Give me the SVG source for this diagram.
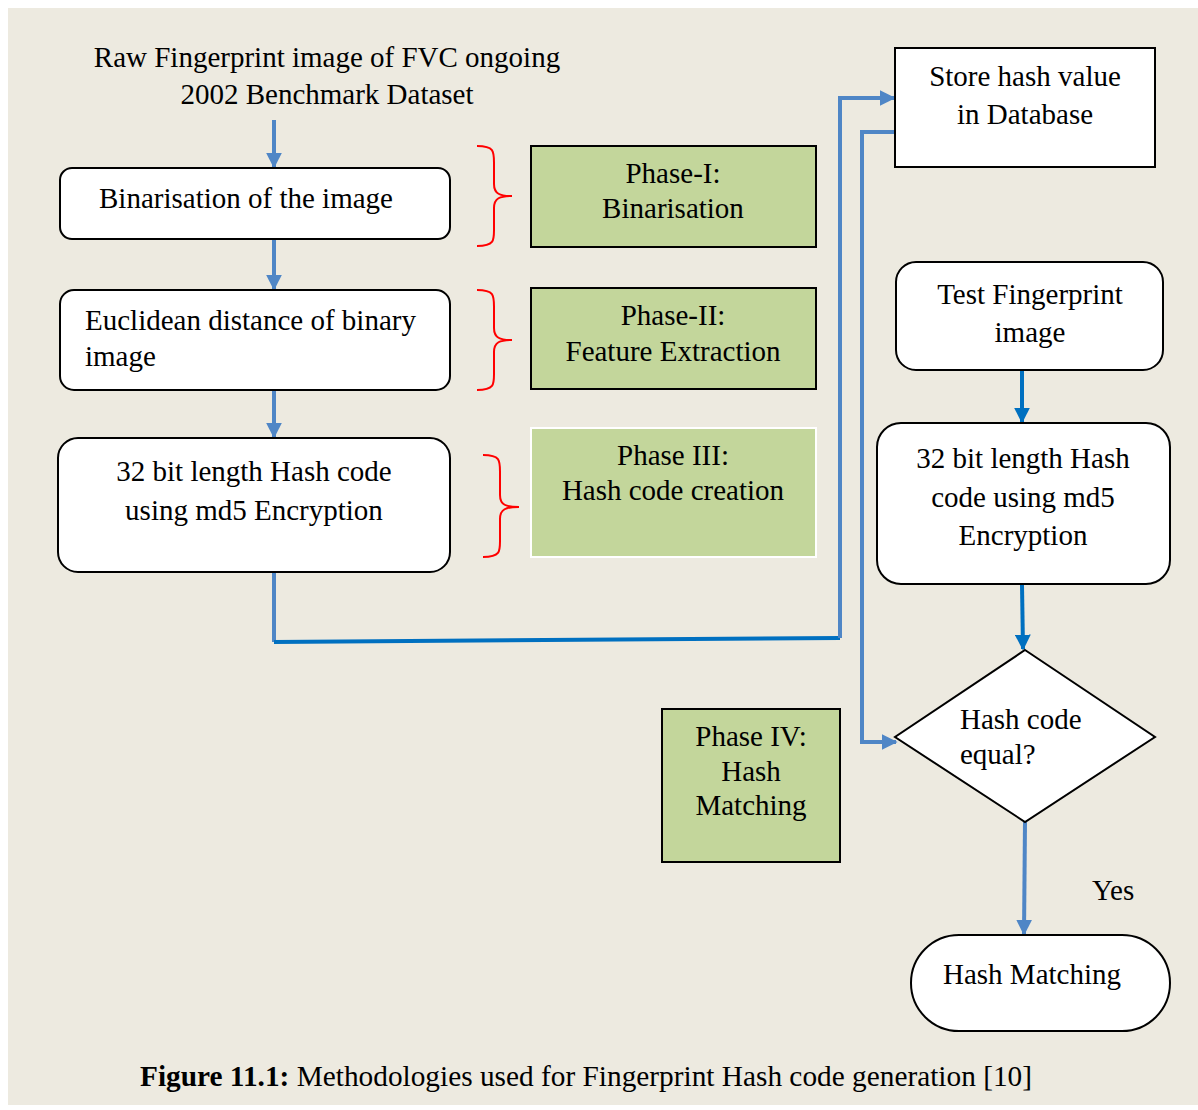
<svg xmlns="http://www.w3.org/2000/svg" width="1198" height="1110" viewBox="0 0 1198 1110">
  <style>
    text { font-family: "Liberation Serif", "Times New Roman", serif; font-size: 29px; fill: #000; }
    .mid { text-anchor: middle; }
    .box { fill: #fff; stroke: #000; stroke-width: 2; }
    .phase { fill: #C3D69B; stroke: #000; stroke-width: 2; }
    .phase.light { stroke: #fff; }
    .brace { fill: none; stroke: #FF0000; stroke-width: 2; }
    .link { fill: none; stroke: #4F86C6; stroke-width: 4; }
    .link2 { fill: none; stroke: #0070C0; stroke-width: 4; }
  </style>
  <defs>
    <marker id="arrow" viewBox="0 0 10 10" refX="9" refY="5" markerUnits="userSpaceOnUse" markerWidth="16" markerHeight="16" orient="auto">
      <path d="M0,0 L10,5 L0,10 Z" fill="#4F86C6"/>
    </marker>
    <marker id="arrow2" viewBox="0 0 10 10" refX="9" refY="5" markerUnits="userSpaceOnUse" markerWidth="16" markerHeight="16" orient="auto">
      <path d="M0,0 L10,5 L0,10 Z" fill="#0070C0"/>
    </marker>
  </defs>

  <!-- page background -->
  <rect x="0" y="0" width="1198" height="1110" fill="#fff"/>
  <rect x="8" y="8" width="1190" height="1097" fill="#EDEAE0"/>

  <!-- source label -->
  <g id="source">
    <text class="mid" x="327" y="67">Raw Fingerprint image of FVC ongoing</text>
    <text class="mid" x="327" y="104">2002 Benchmark Dataset</text>
  </g>

  <!-- connectors -->
  <g id="connectors">
    <line class="link" x1="274" y1="120" x2="274" y2="167" marker-end="url(#arrow)"/>
    <line class="link" x1="274" y1="240" x2="274" y2="289" marker-end="url(#arrow)"/>
    <line class="link" x1="274" y1="390" x2="274" y2="437" marker-end="url(#arrow)"/>
    <polyline class="link" points="274,573 274,642"/>
    <polyline class="link2" points="274,642 840,638"/>
    <polyline class="link" points="840,638 840,98 894,98" marker-end="url(#arrow)"/>
    <polyline class="link" points="895,132 862,132 862,742 896,742" marker-end="url(#arrow)"/>
    <line class="link2" x1="1022" y1="371" x2="1022" y2="422" marker-end="url(#arrow2)"/>
    <line class="link2" x1="1022" y1="585" x2="1023" y2="649" marker-end="url(#arrow2)"/>
    <line class="link" x1="1025" y1="822" x2="1024" y2="934" marker-end="url(#arrow)"/>
  </g>

  <!-- left column: enrolment steps -->
  <g id="binarisation">
    <rect class="box" x="60" y="168" width="390" height="71" rx="12"/>
    <text x="99" y="208">Binarisation of the image</text>
  </g>
  <g id="euclidean">
    <rect class="box" x="60" y="290" width="390" height="100" rx="14"/>
    <text x="85" y="330">Euclidean distance of binary</text>
    <text x="85" y="366">image</text>
  </g>
  <g id="hash-enrol">
    <rect class="box" x="58" y="438" width="392" height="134" rx="20" stroke-width="2.5"/>
    <text class="mid" x="254" y="481">32 bit length Hash code</text>
    <text class="mid" x="254" y="520">using md5 Encryption</text>
  </g>

  <!-- braces -->
  <g id="braces">
    <path class="brace" d="M477,146 C495,146 494,152 494,165 L494,184 C494,194 500,196 512,196 C500,196 494,198 494,208 L494,228 C494,240 495,246 477,246"/>
    <path class="brace" d="M477,290 C495,290 494,296 494,309 L494,328 C494,338 500,340 512,340 C500,340 494,342 494,352 L494,372 C494,384 495,390 477,390"/>
    <path class="brace" d="M483,455 C501,455 500,461 500,474 L500,495 C500,505 506,507 519,507 C506,507 500,509 500,519 L500,539 C500,551 501,557 483,557"/>
  </g>

  <!-- phase labels -->
  <g id="phase-1">
    <rect class="phase" x="531" y="146" width="285" height="101"/>
    <text class="mid" x="673" y="183">Phase-I:</text>
    <text class="mid" x="673" y="218">Binarisation</text>
  </g>
  <g id="phase-2">
    <rect class="phase" x="531" y="288" width="285" height="101"/>
    <text class="mid" x="673" y="325">Phase-II:</text>
    <text class="mid" x="673" y="361">Feature Extraction</text>
  </g>
  <g id="phase-3">
    <rect class="phase light" x="531" y="428" width="285" height="129"/>
    <text class="mid" x="673" y="465">Phase III:</text>
    <text class="mid" x="673" y="500">Hash code creation</text>
  </g>
  <g id="phase-4">
    <rect class="phase" x="662" y="709" width="178" height="153"/>
    <text class="mid" x="751" y="746">Phase IV:</text>
    <text class="mid" x="751" y="781">Hash</text>
    <text class="mid" x="751" y="815">Matching</text>
  </g>

  <!-- right column: storage and matching -->
  <g id="store">
    <rect class="box" x="895" y="48" width="260" height="119"/>
    <text class="mid" x="1025" y="86">Store hash value</text>
    <text class="mid" x="1025" y="124">in Database</text>
  </g>
  <g id="test-fingerprint">
    <rect class="box" x="896" y="262" width="267" height="108" rx="20"/>
    <text class="mid" x="1030" y="304">Test Fingerprint</text>
    <text class="mid" x="1030" y="342">image</text>
  </g>
  <g id="hash-test">
    <rect class="box" x="877" y="423" width="293" height="161" rx="24"/>
    <text class="mid" x="1023" y="468">32 bit length Hash</text>
    <text class="mid" x="1023" y="507">code using md5</text>
    <text class="mid" x="1023" y="545">Encryption</text>
  </g>
  <g id="decision">
    <polygon class="box" points="1025,650 1155,737 1025,822 895,737"/>
    <text x="960" y="729">Hash code</text>
    <text x="960" y="764">equal?</text>
  </g>
  <text x="1092" y="900">Yes</text>
  <g id="hash-matching">
    <rect class="box" x="911" y="935" width="259" height="96" rx="48"/>
    <text x="943" y="984">Hash Matching</text>
  </g>

  <!-- caption -->
  <text x="140" y="1086" font-size="28" textLength="892" lengthAdjust="spacingAndGlyphs"><tspan font-weight="bold">Figure 11.1:</tspan> Methodologies used for Fingerprint Hash code generation [10]</text>
</svg>
